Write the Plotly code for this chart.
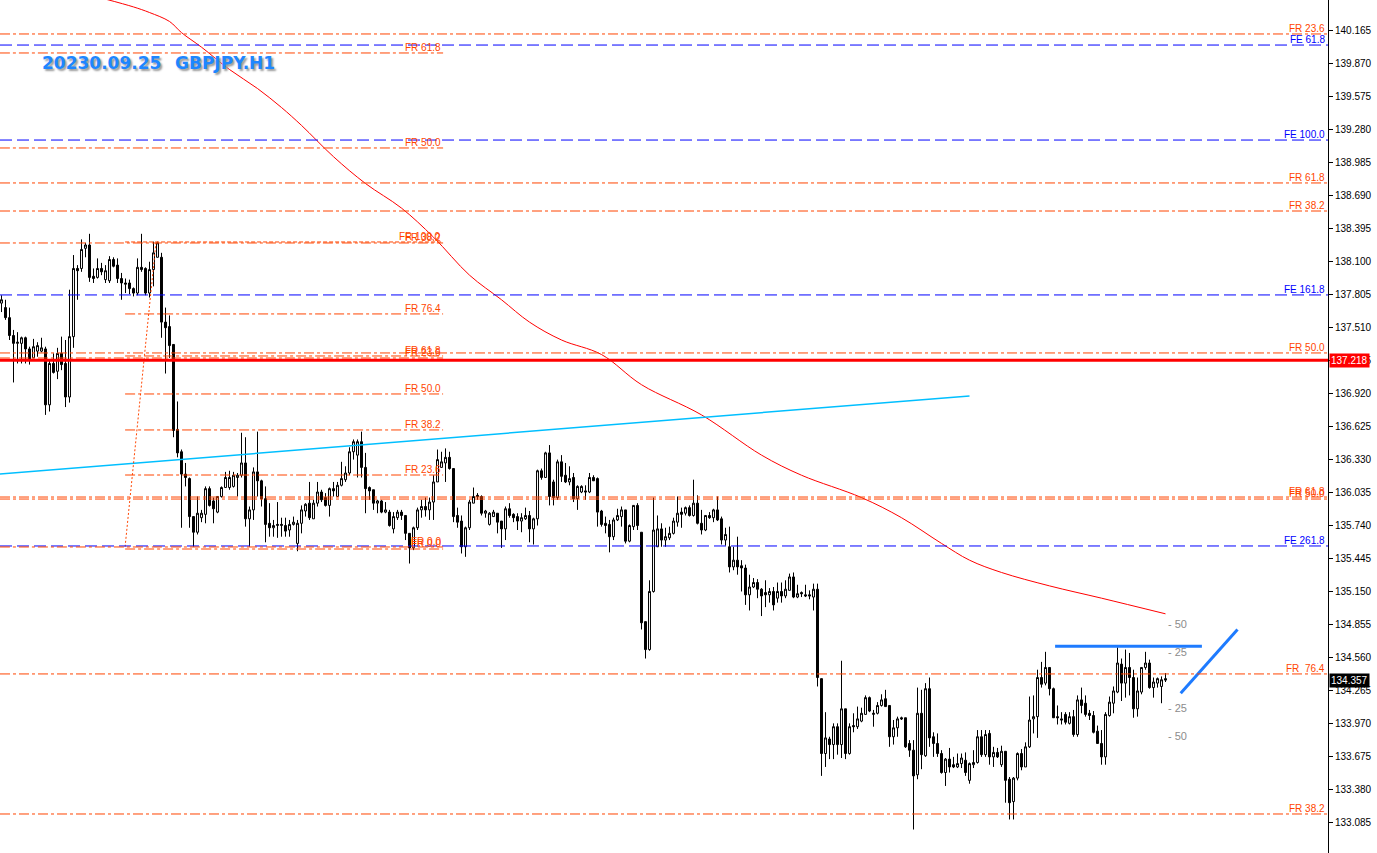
import plotly.graph_objects as go

# GBPJPY H1 candles (bar index 0 = leftmost visible bar)
opens = [
    137.73, 137.69, 137.60, 137.44, 137.37, 137.37, 137.42, 137.32, 137.24, 137.30,
    137.30, 137.32, 136.82, 137.19, 137.12, 137.28, 137.19, 136.89, 137.43, 138.04,
    138.04, 138.22, 138.25, 137.97, 137.96, 138.04, 137.94, 137.93, 138.12, 138.07,
    137.95, 137.91, 137.91, 137.86, 137.82, 138.05, 138.04, 137.82, 138.03, 138.14,
    138.14, 137.56, 137.52, 137.36, 136.60, 136.40, 136.20, 136.16, 135.82, 135.68,
    135.81, 135.84, 136.07, 135.96, 135.86, 136.00, 136.08, 136.08, 136.09, 136.17,
    136.19, 136.30, 135.80, 135.88, 136.22, 136.14, 135.98, 135.76, 135.72, 135.74,
    135.74, 135.74, 135.70, 135.75, 135.58, 135.76, 135.87, 135.94, 135.80, 135.94,
    136.04, 135.99, 135.92, 136.07, 136.00, 136.10, 136.15, 136.21, 136.40, 136.37,
    136.49, 136.26, 136.08, 136.06, 135.94, 135.96, 135.86, 135.86, 135.71, 135.81,
    135.86, 135.83, 135.67, 135.54, 135.72, 135.88, 135.91, 135.88, 135.95, 136.13,
    136.26, 136.30, 136.35, 136.25, 135.83, 135.78, 135.55, 135.72, 135.94, 136.01,
    136.00, 135.85, 135.75, 135.82, 135.85, 135.78, 135.71, 135.89, 135.84, 135.82,
    135.78, 135.80, 135.83, 135.71, 135.80, 136.23, 136.17, 136.39, 136.13, 135.99,
    136.31, 136.19, 136.13, 136.17, 135.98, 136.04, 136.05, 136.04, 136.17, 136.16,
    135.87, 135.76, 135.75, 135.64, 135.79, 135.82, 135.88, 135.60, 135.73, 135.92,
    135.68, 134.88, 134.63, 135.15, 135.55, 135.71, 135.61, 135.63, 135.67, 135.77,
    135.86, 135.85, 135.90, 135.83, 135.94, 135.76, 135.70, 135.83, 135.81, 135.88,
    135.80, 135.61, 135.55, 135.37, 135.43, 135.38, 135.36, 135.12, 135.19, 135.23,
    135.17, 135.14, 135.12, 135.15, 135.09, 135.15, 135.11, 135.16, 135.28, 135.10,
    135.14, 135.12, 135.12, 135.10, 135.17, 134.37, 133.70, 133.83, 133.78, 133.94,
    133.78, 134.10, 133.70, 133.95, 133.94, 133.99, 134.05, 134.20, 134.05, 134.06,
    134.13, 134.19, 134.13, 133.85, 133.93, 134.02, 134.02, 133.79, 133.73, 133.51,
    134.06, 133.68, 134.28, 133.85, 133.79, 133.70, 133.53, 133.65, 133.60, 133.58,
    133.61, 133.64, 133.46, 133.60, 133.62, 133.85, 133.69, 133.88, 133.67, 133.71,
    133.60, 133.72, 133.47, 133.27, 133.48, 133.70, 133.58, 133.76, 134.01, 134.03,
    134.38, 134.33, 134.47, 134.28, 134.03, 134.01, 134.05, 133.97, 134.03, 133.87,
    134.18, 134.15, 134.06, 134.04, 133.90, 133.79, 133.67, 134.04, 134.15, 134.25,
    134.50, 134.33, 134.47, 134.38, 134.10, 134.25, 134.47, 134.51, 134.29, 134.33,
    134.30, 134.37,
]
highs = [
    137.80, 137.76, 137.69, 137.49, 137.47, 137.43, 137.43, 137.34, 137.41, 137.38,
    137.42, 137.34, 137.22, 137.28, 137.33, 137.43, 137.40, 137.85, 138.16, 138.07,
    138.30, 138.27, 138.35, 138.04, 138.13, 138.09, 138.07, 138.15, 138.14, 138.13,
    138.00, 137.95, 137.94, 137.87, 138.13, 138.35, 138.05, 138.10, 138.28, 138.28,
    138.18, 137.69, 137.62, 137.36, 136.85, 136.42, 136.30, 136.17, 135.82, 136.00,
    135.88, 136.09, 136.09, 135.99, 136.00, 136.09, 136.22, 136.23, 136.22, 136.21,
    136.57, 136.53, 135.91, 136.26, 136.58, 136.15, 136.09, 135.94, 135.79, 135.95,
    135.81, 135.81, 135.79, 135.82, 135.79, 135.92, 135.94, 136.13, 135.97, 136.13,
    136.06, 136.03, 136.08, 136.13, 136.13, 136.31, 136.27, 136.44, 136.51, 136.51,
    136.58, 136.39, 136.09, 136.06, 135.97, 135.97, 135.95, 135.88, 135.86, 135.88,
    135.88, 135.83, 135.67, 135.73, 135.90, 135.97, 135.99, 135.99, 136.19, 136.42,
    136.40, 136.43, 136.40, 136.25, 135.90, 135.83, 135.73, 135.97, 136.08, 136.03,
    136.01, 135.88, 135.86, 135.88, 135.85, 135.78, 135.91, 135.94, 135.85, 135.85,
    135.85, 135.90, 135.87, 135.81, 136.24, 136.25, 136.40, 136.46, 136.15, 136.33,
    136.37, 136.30, 136.27, 136.21, 136.10, 136.10, 136.10, 136.21, 136.19, 136.17,
    135.88, 135.82, 135.79, 135.81, 135.89, 135.91, 135.88, 135.75, 135.92, 135.94,
    135.68, 134.88, 135.25, 135.99, 135.83, 135.76, 135.72, 135.73, 135.81, 136.00,
    135.90, 135.91, 135.92, 136.15, 136.01, 135.88, 135.83, 135.86, 135.89, 136.00,
    135.82, 135.72, 135.73, 135.55, 135.64, 135.43, 135.39, 135.30, 135.27, 135.26,
    135.18, 135.25, 135.18, 135.19, 135.23, 135.23, 135.25, 135.31, 135.32, 135.21,
    135.15, 135.21, 135.16, 135.22, 135.22, 134.37, 134.07, 133.85, 133.97, 133.97,
    134.53, 134.10, 133.97, 134.06, 134.12, 134.11, 134.22, 134.21, 134.09, 134.16,
    134.23, 134.27, 134.13, 134.00, 134.03, 134.03, 134.02, 133.82, 133.82, 134.29,
    134.27, 134.33, 134.38, 133.89, 133.88, 133.73, 133.66, 133.75, 133.67, 133.70,
    133.70, 133.71, 133.62, 133.73, 133.91, 133.91, 133.91, 133.91, 133.76, 133.75,
    133.77, 133.72, 133.49, 133.49, 133.71, 133.74, 133.80, 134.21, 134.22, 134.45,
    134.52, 134.61, 134.47, 134.29, 134.13, 134.07, 134.07, 134.07, 134.09, 134.22,
    134.29, 134.22, 134.09, 134.08, 133.95, 133.91, 134.07, 134.21, 134.30, 134.65,
    134.55, 134.63, 134.60, 134.45, 134.38, 134.47, 134.61, 134.54, 134.38, 134.38,
    134.39, 134.42,
]
lows = [
    137.65, 137.58, 137.40, 137.02, 137.19, 137.19, 137.19, 137.18, 137.24, 137.25,
    137.29, 136.73, 136.76, 137.10, 137.05, 137.13, 136.80, 136.84, 137.33, 137.76,
    138.01, 138.14, 137.92, 137.91, 137.95, 137.98, 137.91, 137.91, 138.05, 137.91,
    137.76, 137.82, 137.81, 137.79, 137.80, 138.01, 137.80, 137.78, 137.88, 138.14,
    137.42, 137.10, 137.24, 136.53, 136.35, 135.72, 136.09, 135.72, 135.55, 135.66,
    135.77, 135.76, 135.91, 135.76, 135.85, 135.99, 136.08, 136.06, 136.08, 136.00,
    136.17, 135.73, 135.55, 135.79, 136.00, 135.91, 135.59, 135.64, 135.64, 135.63,
    135.64, 135.64, 135.64, 135.74, 135.51, 135.67, 135.82, 135.79, 135.80, 135.91,
    135.95, 135.91, 135.82, 136.00, 136.00, 136.09, 136.13, 136.19, 136.33, 136.17,
    136.17, 135.85, 135.97, 135.88, 135.85, 135.85, 135.85, 135.73, 135.67, 135.79,
    135.79, 135.61, 135.40, 135.52, 135.70, 135.81, 135.82, 135.79, 135.79, 136.13,
    136.26, 136.13, 136.24, 135.77, 135.72, 135.49, 135.46, 135.70, 135.94, 135.97,
    135.83, 135.81, 135.74, 135.82, 135.67, 135.54, 135.61, 135.81, 135.77, 135.70,
    135.68, 135.79, 135.59, 135.57, 135.74, 136.15, 136.17, 135.92, 135.92, 135.97,
    136.13, 136.12, 136.10, 135.95, 135.88, 136.03, 135.97, 136.03, 136.14, 135.73,
    135.73, 135.67, 135.50, 135.61, 135.78, 135.73, 135.58, 135.59, 135.70, 135.70,
    134.81, 134.55, 134.62, 135.14, 135.55, 135.55, 135.55, 135.61, 135.66, 135.73,
    135.72, 135.83, 135.82, 135.82, 135.75, 135.66, 135.69, 135.80, 135.77, 135.78,
    135.57, 135.56, 135.32, 135.34, 135.30, 135.15, 135.03, 134.98, 135.18, 135.09,
    134.93, 135.01, 135.05, 134.98, 135.05, 135.05, 135.09, 135.16, 135.09, 135.09,
    135.10, 135.10, 135.08, 134.98, 134.30, 133.50, 133.58, 133.65, 133.65, 133.69,
    133.66, 133.65, 133.69, 133.89, 133.92, 133.98, 134.05, 134.07, 133.94, 134.05,
    134.12, 134.12, 133.76, 133.78, 133.85, 134.00, 133.75, 133.67, 133.02, 133.47,
    133.56, 133.67, 133.76, 133.67, 133.67, 133.52, 133.41, 133.53, 133.57, 133.57,
    133.57, 133.50, 133.43, 133.57, 133.61, 133.67, 133.67, 133.60, 133.58, 133.66,
    133.58, 133.26, 133.11, 133.11, 133.46, 133.55, 133.58, 133.75, 133.88, 133.84,
    134.29, 134.31, 134.22, 134.02, 133.96, 133.96, 133.96, 133.96, 133.85, 133.85,
    134.06, 134.03, 134.00, 133.88, 133.79, 133.60, 133.60, 134.03, 134.06, 134.24,
    134.17, 134.20, 134.22, 134.02, 134.03, 134.23, 134.45, 134.28, 134.20, 134.29,
    134.15, 134.34,
]
closes = [
    137.76, 137.60, 137.44, 137.37, 137.38, 137.42, 137.32, 137.23, 137.34, 137.35,
    137.33, 136.82, 137.19, 137.11, 137.28, 137.18, 136.89, 137.43, 138.04, 138.02,
    138.21, 138.25, 137.96, 137.95, 138.04, 138.01, 138.02, 138.12, 138.06, 137.95,
    137.91, 137.90, 137.86, 137.82, 138.05, 138.03, 137.82, 138.03, 138.18, 138.27,
    137.56, 137.51, 137.35, 136.59, 136.39, 136.20, 136.17, 135.82, 135.68, 135.85,
    135.85, 136.07, 135.92, 135.89, 136.00, 136.08, 136.17, 136.17, 136.19, 136.19,
    136.30, 135.80, 135.88, 136.22, 136.14, 135.98, 135.75, 135.72, 135.74, 135.75,
    135.75, 135.69, 135.75, 135.77, 135.76, 135.88, 135.93, 135.81, 135.94, 136.04,
    135.97, 135.92, 136.07, 136.05, 136.10, 136.16, 136.21, 136.40, 136.49, 136.49,
    136.26, 136.07, 136.05, 135.94, 135.96, 135.86, 135.88, 135.74, 135.82, 135.86,
    135.83, 135.67, 135.54, 135.72, 135.88, 135.91, 135.88, 135.95, 136.13, 136.33,
    136.31, 136.35, 136.25, 135.82, 135.77, 135.55, 135.72, 135.95, 136.00, 136.00,
    135.85, 135.87, 135.85, 135.86, 135.77, 135.71, 135.89, 135.83, 135.81, 135.78,
    135.81, 135.83, 135.71, 135.80, 136.23, 136.17, 136.39, 136.00, 135.99, 136.31,
    136.18, 136.13, 136.16, 135.98, 136.09, 136.09, 136.04, 136.17, 136.14, 135.86,
    135.75, 135.74, 135.64, 135.79, 135.83, 135.88, 135.60, 135.74, 135.92, 135.74,
    134.87, 134.63, 135.15, 135.70, 135.71, 135.61, 135.64, 135.67, 135.78, 135.85,
    135.84, 135.90, 135.83, 135.94, 135.76, 135.70, 135.83, 135.81, 135.88, 135.79,
    135.61, 135.66, 135.37, 135.43, 135.37, 135.36, 135.12, 135.19, 135.23, 135.17,
    135.11, 135.12, 135.15, 135.03, 135.15, 135.11, 135.17, 135.28, 135.10, 135.13,
    135.13, 135.11, 135.11, 135.17, 134.38, 133.70, 133.84, 133.78, 133.94, 133.78,
    134.10, 133.70, 133.94, 133.94, 134.01, 134.06, 134.20, 134.08, 134.06, 134.13,
    134.18, 134.12, 133.85, 133.93, 134.01, 134.01, 133.76, 133.73, 133.50, 134.06,
    133.69, 134.28, 133.84, 133.79, 133.70, 133.53, 133.65, 133.58, 133.58, 133.61,
    133.66, 133.53, 133.61, 133.62, 133.85, 133.69, 133.87, 133.67, 133.71, 133.67,
    133.72, 133.46, 133.26, 133.48, 133.70, 133.58, 133.76, 134.00, 134.03, 134.38,
    134.32, 134.47, 134.28, 134.02, 134.02, 134.00, 133.98, 134.03, 133.87, 134.18,
    134.13, 134.05, 134.04, 133.89, 133.79, 133.67, 134.05, 134.16, 134.26, 134.51,
    134.33, 134.47, 134.38, 134.10, 134.26, 134.47, 134.51, 134.29, 134.34, 134.37,
    134.36, 134.357,
]
bars = list(range(len(closes)))

# moving average (bar index, price)
ma_bars = [26, 33, 37, 42, 45, 50, 57, 64, 70, 75, 83, 91, 100, 108, 117, 125,
           132, 140, 150, 160, 175, 190, 200, 215, 225, 235, 242, 250, 262, 275, 291]
ma_vals = [140.45, 140.38, 140.33, 140.25, 140.15, 140.02, 139.82, 139.65, 139.48,
           139.32, 139.04, 138.80, 138.58, 138.32, 137.98, 137.76, 137.56, 137.40,
           137.27, 137.00, 136.73, 136.37, 136.19, 135.99, 135.81, 135.58, 135.43,
           135.32, 135.20, 135.09, 134.95]

# cyan trend line and fibo anchor line
trend_bars = [-0.4, 242]
trend_vals = [136.20, 136.90]
fibo_diag_bars = [30.9, 38.6]
fibo_diag_vals = [135.55, 138.27]

# blue hand-drawn lines
blue_h_bars = [263.4, 300.1]
blue_h_vals = [134.66, 134.66]
blue_d_bars = [294.8, 309.0]
blue_d_vals = [134.24, 134.81]

# full-width retracement / expansion levels
fr_full_levels = [140.138, 138.805, 138.554, 137.284, 135.995, 135.977, 134.412, 133.159]
fr_full_labels = ["FR 23.6", "FR 61.8", "FR 38.2", "FR 50.0", "FR 61.8", "FR 50.0",
                  "FR\u00a0\u00a076.4", "FR 38.2"]
fe_levels = [140.039, 139.189, 137.803, 135.557]
fe_labels = ["FE 61.8", "FE 100.0", "FE 161.8", "FE 261.8"]

# short fibo sets
fib_a_levels = [139.968, 139.118, 138.268, 137.239, 135.548]
fib_a_labels = ["FR 61.8", "FR 50.0", "FR 38.2", "FR 23.6", "FR 0.0"]
fib_a_span = [-0.4, 110.4]
fib_b_levels = [138.277, 137.633, 137.257, 136.917, 136.595, 136.192, 135.530]
fib_b_labels = ["FR 100.0", "FR 76.4", "FR 61.8", "FR 50.0", "FR 38.2", "FR 23.6", "FR 0.0"]
fib_b_span = [30.9, 110.4]

# marker texts near the last bar
mark_vals = [134.86, 134.61, 134.11, 133.86]
mark_labels = ["- 50", "- 25", "- 25", "- 50"]

red_level = 137.218
last_price = 134.357

y_ticks = [133.085, 133.380, 133.675, 133.970, 134.265, 134.560, 134.855, 135.150,
           135.445, 135.740, 136.035, 136.330, 136.625, 136.920, 137.215, 137.510,
           137.805, 138.100, 138.395, 138.690, 138.985, 139.280, 139.575, 139.870,
           140.165]

ORANGE = "#FF4500"
BLUE = "#0000FF"
DASHDOT = "10px,3px,3px,3px"
LONGDASH = "12px,5px"
FONT = "Liberation Sans"

fig = go.Figure()

fig.add_trace(go.Candlestick(
    x=bars, open=opens, high=highs, low=lows, close=closes,
    increasing=dict(line=dict(color="black", width=1), fillcolor="white"),
    decreasing=dict(line=dict(color="black", width=1), fillcolor="black"),
    whiskerwidth=0,
))

fig.add_trace(go.Scatter(x=ma_bars, y=ma_vals, mode="lines",
                         line=dict(color="#FF0000", width=1), line_shape="spline"))
fig.add_trace(go.Scatter(x=trend_bars, y=trend_vals, mode="lines",
                         line=dict(color="#00BFFF", width=1.5)))
fig.add_trace(go.Scatter(x=fibo_diag_bars, y=fibo_diag_vals, mode="lines",
                         line=dict(color=ORANGE, width=1, dash="2px,2px")))
fig.add_trace(go.Scatter(x=blue_h_bars, y=blue_h_vals, mode="lines",
                         line=dict(color="#1E7BFF", width=3)))
fig.add_trace(go.Scatter(x=blue_d_bars, y=blue_d_vals, mode="lines",
                         line=dict(color="#1E7BFF", width=3)))

shapes = []
annotations = []

def right_label(y, text, color):
    annotations.append(dict(
        xref="paper", x=1, y=y, yref="y", text=text, showarrow=False,
        xanchor="right", yanchor="bottom", xshift=-1, yshift=-2,
        font=dict(family=FONT, size=10, color=color),
    ))

for lv, lb in zip(fr_full_levels, fr_full_labels):
    shapes.append(dict(type="line", xref="paper", x0=0, x1=1, yref="y", y0=lv, y1=lv,
                       line=dict(color=ORANGE, width=1, dash=DASHDOT)))
    right_label(lv, lb, ORANGE)

for lv, lb in zip(fe_levels, fe_labels):
    shapes.append(dict(type="line", xref="paper", x0=0, x1=1, yref="y", y0=lv, y1=lv,
                       line=dict(color=BLUE, width=1, dash=LONGDASH)))
    right_label(lv, lb, BLUE)

for levels, labels, span in [(fib_a_levels, fib_a_labels, fib_a_span),
                             (fib_b_levels, fib_b_labels, fib_b_span)]:
    for lv, lb in zip(levels, labels):
        dash = "4px,2px" if lb == "FR 100.0" else DASHDOT
        shapes.append(dict(type="line", xref="x", x0=span[0], x1=span[1], yref="y",
                           y0=lv, y1=lv, line=dict(color=ORANGE, width=1, dash=dash)))
        annotations.append(dict(
            x=span[1], y=lv, xref="x", yref="y", text=lb, showarrow=False,
            xanchor="right", yanchor="bottom", yshift=-2,
            font=dict(family=FONT, size=10, color=ORANGE),
        ))

# thick red horizontal line
shapes.append(dict(type="line", xref="paper", x0=0, x1=1, yref="y",
                   y0=red_level, y1=red_level, line=dict(color="#FF0000", width=3)))

for v, t in zip(mark_vals, mark_labels):
    annotations.append(dict(
        x=bars[-1], y=v, xref="x", yref="y", text=t, showarrow=False,
        xanchor="left", yanchor="middle",
        font=dict(family=FONT, size=11, color="#8C8C8C"),
    ))

# price boxes on the axis
for v, bg in [(red_level, "#FF0000"), (last_price, "#000000")]:
    annotations.append(dict(
        xref="paper", x=1, y=v, yref="y", text=f"{v:.3f}", showarrow=False,
        xanchor="left", yanchor="middle", xshift=1, bgcolor=bg, borderpad=1,
        font=dict(family=FONT, size=10, color="white"),
    ))

# chart caption
title_font = dict(family="DejaVu Sans", size=17, color="#1E86FF", weight="bold",
                  shadow="2px 2px 2px #9a9a9a")
annotations.append(dict(xref="paper", yref="paper", x=40 / 1328, y=1 - 63 / 853,
                        text="20230.09.25", showarrow=False, xanchor="left",
                        yanchor="middle", font=title_font))
annotations.append(dict(xref="paper", yref="paper", x=173 / 1328, y=1 - 63 / 853,
                        text="GBPJPY.H1", showarrow=False, xanchor="left",
                        yanchor="middle", font=title_font))

fig.update_layout(
    width=1377, height=853,
    margin=dict(l=0, r=49, t=0, b=0),
    paper_bgcolor="white", plot_bgcolor="white",
    showlegend=False,
    shapes=shapes, annotations=annotations,
    xaxis=dict(range=[-0.375, 331.625], visible=False, rangeslider=dict(visible=False),
               showgrid=False, zeroline=False),
    yaxis=dict(range=[132.81, 140.442], side="right", showgrid=False, zeroline=False,
               tickvals=y_ticks, ticktext=[f"{v:.3f}" for v in y_ticks],
               ticks="outside", ticklen=4, tickcolor="black",
               showline=True, linecolor="black", linewidth=1,
               tickfont=dict(family=FONT, size=10, color="black")),
)

fig.write_html("out.html", post_script="document.body.style.margin='0px';",
               config={"displayModeBar": False})
